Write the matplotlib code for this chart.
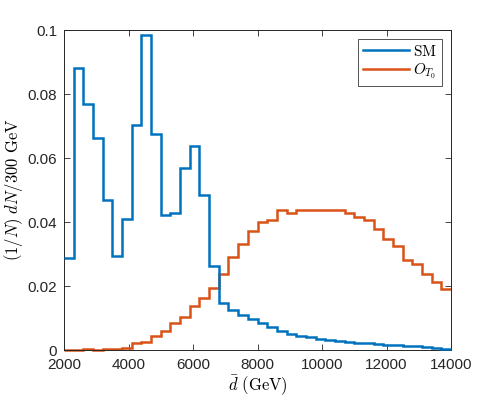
import numpy as np
import matplotlib
matplotlib.use("Agg")
import matplotlib.pyplot as plt

# ── Data: normalised d-bar distributions, 300 GeV bins from 2000 to 14000 ──
bin_edges = np.arange(2000, 14001, 300)

sm_vals = [0.0288, 0.0880, 0.0769, 0.0661, 0.0468, 0.0294, 0.0410, 0.0702,
           0.0983, 0.0675, 0.0423, 0.0428, 0.0568, 0.0639, 0.0484, 0.0263,
           0.0148, 0.0125, 0.0109, 0.0096, 0.0083, 0.0071, 0.0059, 0.0051,
           0.0045, 0.0040, 0.0035, 0.0031, 0.0028, 0.0026, 0.0023, 0.0021,
           0.0019, 0.0017, 0.0015, 0.0013, 0.0011, 0.0008, 0.0006, 0.0004]

ot0_vals = [0.0000, 0.0000, 0.0002, 0.0001, 0.0002, 0.0003, 0.0005, 0.0021,
            0.0026, 0.0045, 0.0060, 0.0083, 0.0104, 0.0138, 0.0164, 0.0195,
            0.0238, 0.0292, 0.0330, 0.0373, 0.0400, 0.0405, 0.0436, 0.0427,
            0.0436, 0.0438, 0.0437, 0.0438, 0.0439, 0.0427, 0.0416, 0.0407,
            0.0378, 0.0347, 0.0325, 0.0282, 0.0268, 0.0238, 0.0212, 0.0190]

x_ticks = [2000, 4000, 6000, 8000, 10000, 12000, 14000]
y_ticks = [0, 0.02, 0.04, 0.06, 0.08, 0.1]
y_tick_labels = ["0", "0.02", "0.04", "0.06", "0.08", "0.1"]

plt.rcParams["font.family"] = ["Liberation Sans", "DejaVu Sans"]
plt.rcParams["mathtext.fontset"] = "cm"

fig = plt.figure(figsize=(4.98, 3.99), dpi=100)
ax = fig.add_axes([64 / 498, 49 / 399, 387 / 498, 320 / 399])

ax.stairs(sm_vals, bin_edges, baseline=None, color="#0072BD", lw=1.8,
          label=r"$\mathrm{SM}$", clip_on=False, zorder=3)
ax.stairs(ot0_vals, bin_edges, baseline=None, color="#D95319", lw=1.8,
          label=r"$O_{T_0}$", clip_on=False, zorder=2)

ax.set_xlim(2000, 14000)
ax.set_ylim(0, 0.1)
ax.set_xticks(x_ticks)
ax.set_xticklabels([str(t) for t in x_ticks])
ax.set_yticks(y_ticks)
ax.set_yticklabels(y_tick_labels)
ax.tick_params(direction="in", top=True, right=True, length=4, width=0.6,
               labelsize=11, colors="#262626")
ax.tick_params(axis="x", pad=6)
ax.tick_params(axis="y", pad=5)
for s in ax.spines.values():
    s.set_color("#262626")
    s.set_linewidth(0.7)

ax.set_xlabel(r"$\bar{d}\ (\mathrm{GeV})$", fontsize=12, labelpad=1)
ax.set_ylabel(r"$(1/N)\ dN/300\ \mathrm{GeV}$", fontsize=12)
ax.yaxis.set_label_coords(-0.1, 0.5)

leg = ax.legend(loc="upper right", fontsize=11, frameon=True, fancybox=False,
                handlelength=3.0, borderpad=0.3, labelspacing=0.2,
                handletextpad=0.3, borderaxespad=0.6)
leg.get_frame().set_edgecolor("#262626")
leg.get_frame().set_linewidth(0.7)
for h in leg.get_lines():
    h.set_linewidth(1.8)

fig.savefig("out.png", dpi=100)
